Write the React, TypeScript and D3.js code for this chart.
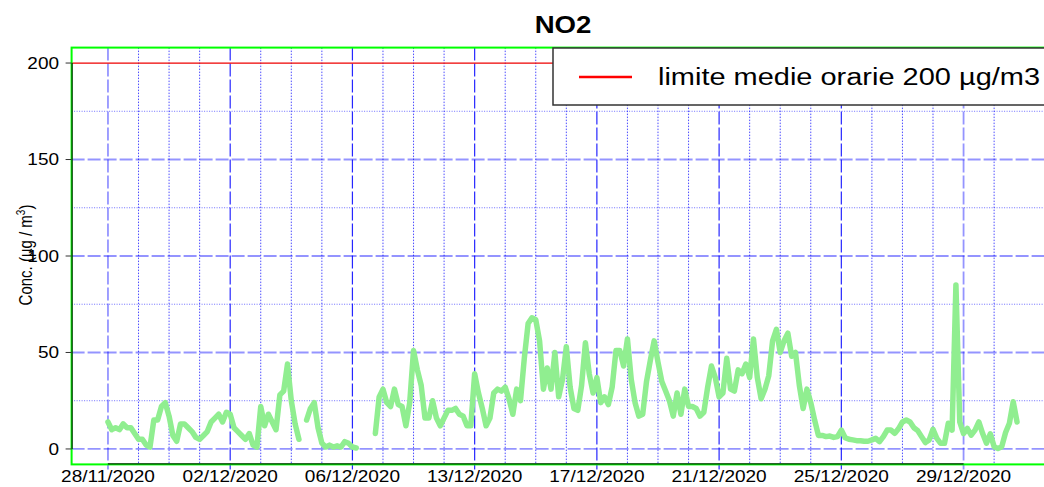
import * as d3 from "d3";

// NO2 hourly concentration, one reading every 3 hours from 28/11/2020 (null = no data)
const STEP_HOURS = 3;
const no2: (number | null)[] = [
  14, 10, 11, 10, 13, 11, 11, 8, 5, 5, 2, 1, 15, 15, 22, 24, 17, 7, 4, 13,
  13, 11, 9, 6, 5, 7, 9, 14, 16, 18, 14, 19, 18, 11, 9, 7, 5, 8, 2, 1,
  22, 12, 18, 14, 10, 28, 30, 44, 25, 13, 5, null, 15, 21, 24, 11, 3, 1, 2, 1,
  1.6, 1, 3.8, 2.9, 1, 0.5, null, null, null, null, 8, 27, 31, 24, 22, 31, 23, 22, 12, 24,
  51, 41, 33, 16, 16, 25, 16, 12, 16, 20, 20, 21, 18, 17, 12, 12, 39, 29, 21, 12,
  16, 29, 31, 30, 32, 26, 18, 31, 25, 47, 65, 68, 67, 56, 31, 42, 31, 50, 27, 36,
  53, 32, 21, 20, 33, 55, 39, 29, 37, 24, 27, 23, 32, 51, 51, 43, 57, 36, 24, 17,
  18, 35, 46, 56, 45, 35, 30, 25, 17, 29, 18, 31, 22, 22, 21, 17, 19, 32, 43, 37,
  27, 29, 47, 31, 30, 41, 39, 44, 37, 57, 37, 26, 31, 38, 56, 62, 50, 56, 60, 48,
  50, 33, 21, 31, 24, 15, 7, 7, 6.4, 6.7, 6, 6.4, 9.8, 5.8, 5, 4.7, 4.3, 4.3, 4, 4,
  4.7, 5.5, 3.8, 6.4, 9.8, 9.8, 8.1, 10.6, 14, 15, 14, 11, 9.5, 6.4, 3.3, 4.7, 10.2, 5.5, 2.9, 2.9,
  13.3, 9.8, 85, 14, 8, 10.6, 7.2, 9.8, 14, 8, 3, 7.8, 1.2, 0.3, 1.2, 8.5, 13.3, 24.5, 14,
];

const tickLabels = [
  "28/11/2020", "02/12/2020", "06/12/2020", "13/12/2020",
  "17/12/2020", "21/12/2020", "25/12/2020", "29/12/2020",
];
const lightTicks = ["28/11/2020", "29/12/2020"];
const yTicks = [0, 50, 100, 150, 200];
const yMinor = [25, 75, 125, 175];
const limit = 200;
const legendText = "limite medie orarie 200 µg/m3";

export default function App() {
  const width = 1044;
  const height = 487;
  const left = 71.6;
  const right = 1053.4;
  const top = 47.6;
  const bottom = 464.4;

  const lastHour = (no2.length - 1) * STEP_HOURS;
  const pad = lastHour * 0.04;
  const x = d3.scaleLinear().domain([-pad, lastHour + pad]).range([left, right]);
  const y = d3.scaleLinear().domain([-8, 208]).range([bottom, top]);

  const dayLines = d3.range(0, lastHour - 12, 24);
  const majorHours = tickLabels.map((_, i) => i * 96);

  const line = d3
    .line<number | null>()
    .defined((d) => d !== null)
    .x((_, i) => x(i * STEP_HOURS))
    .y((d) => y(d as number));

  const sx = 1.15;

  return (
    <svg
      width={width}
      height={height}
      style={{ position: "absolute", left: 0, top: 0, background: "#fff" }}
      fontFamily="'Liberation Sans', Arial, sans-serif"
    >
      {/* title */}
      <text transform={`translate(563,33) scale(1.2,1)`} textAnchor="middle" fontWeight="bold" fontSize={23}>
        NO2
      </text>

      {/* horizontal grid */}
      {yMinor.map((v) => (
        <line key={"hm" + v} x1={left} x2={right} y1={y(v)} y2={y(v)}
          stroke="#3333ff" strokeOpacity={0.7} strokeWidth={1} strokeDasharray="1,1.5" />
      ))}
      {yTicks.filter((v) => v !== limit).map((v) => (
        <line key={"hM" + v} x1={left} x2={right} y1={y(v)} y2={y(v)}
          stroke="#0000ff" strokeOpacity={0.42} strokeWidth={1.8} strokeDasharray="13,3" />
      ))}

      {/* vertical grid */}
      {dayLines.filter((h) => h % 96 !== 0).map((h) => (
        <line key={"vm" + h} x1={x(h)} x2={x(h)} y1={top} y2={bottom}
          stroke="#0000ff" strokeOpacity={0.7} strokeWidth={1} strokeDasharray="1.5,1.5" />
      ))}
      {majorHours.map((h, i) =>
        lightTicks.includes(tickLabels[i]) ? (
          <line key={"vM" + h} x1={x(h)} x2={x(h)} y1={top} y2={bottom + 5}
            stroke="#0000ff" strokeOpacity={0.42} strokeWidth={1.8} strokeDasharray="13,3" />
        ) : (
          <line key={"vM" + h} x1={x(h)} x2={x(h)} y1={top} y2={bottom + 5}
            stroke="#0000ff" strokeOpacity={0.85} strokeWidth={1.2} strokeDasharray="13,3" />
        )
      )}

      {/* limit line */}
      <line x1={left} x2={right} y1={y(limit)} y2={y(limit)} stroke="#ee0000" strokeWidth={1.3} />

      {/* series */}
      <path d={line(no2) ?? ""} fill="none" stroke="#90ee90" strokeWidth={5.5}
        strokeLinejoin="round" strokeLinecap="round" />

      {/* plot border */}
      <rect x={left} y={top} width={right - left} height={bottom - top} fill="none" stroke="#00ff00" strokeWidth={2} />

      {/* y axis */}
      <line x1={left + 0.5} x2={left + 0.5} y1={y(0)} y2={y(200)} stroke="#000" strokeWidth={1} />
      {yTicks.map((v) => (
        <g key={"yt" + v}>
          <line x1={left - 6} x2={left} y1={y(v)} y2={y(v)} stroke="#333" strokeWidth={1} />
          <text transform={`translate(59,${y(v)}) scale(${sx},1)`} textAnchor="end" dy="0.36em" fontSize={16.5}>
            {v}
          </text>
        </g>
      ))}

      {/* x axis */}
      <line x1={x(0)} x2={x(majorHours[majorHours.length - 1])} y1={bottom - 0.5} y2={bottom - 0.5} stroke="#000" strokeWidth={1} />
      {majorHours.map((h, i) => (
        <text key={"xt" + h} transform={`translate(${x(h)},482) scale(1.12,1)`} textAnchor="middle" fontSize={17}>
          {tickLabels[i]}
        </text>
      ))}

      {/* y label */}
      <text transform="translate(32,255) scale(1.2,1) rotate(-90)" textAnchor="middle" fontSize={15}>
        Conc. (µg / m<tspan dy={-6} fontSize={10}>3</tspan><tspan dy={6}>)</tspan>
      </text>

      {/* legend */}
      <rect x={553} y={48} width={520} height={57} fill="#fff" stroke="#333" strokeWidth={1.5} />
      <line x1={579} x2={632} y1={77} y2={77} stroke="#ff0000" strokeWidth={2.5} />
      <text x={658} y={85} fontSize={23} textLength={382} lengthAdjust="spacingAndGlyphs">
        {legendText}
      </text>
    </svg>
  );
}
